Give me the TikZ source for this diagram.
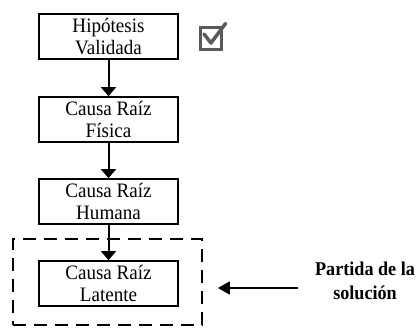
\documentclass[tikz,border=0pt]{standalone}
\usepackage{fontspec}
\setmainfont{Liberation Serif}
\newfontfamily\narrowserif{Liberation Serif}[FakeStretch=0.93]
\usepackage{tikz}
\usetikzlibrary{arrows.meta}
\tikzstyle{rootbox}=[draw, line width=1.7pt, minimum width=139pt, minimum height=45pt, inner sep=0pt, align=center, font=\narrowserif\fontsize{20.5}{22}\selectfont]
\tikzstyle{arr}=[line width=2pt, -{Triangle[length=9pt, width=15pt]}]
\tikzstyle{arrleft}=[line width=2pt, -{Triangle[length=12pt, width=13pt]}]

\begin{document}
\begin{tikzpicture}[x=1pt, y=-1pt]
        \useasboundingbox (0,0) rectangle (419,327);

        % Chain of causes
        \node[rootbox] (hyp) at (108.5,36.5) {Hipótesis\\Validada};
        \node[rootbox] (phys) at (108.5,119.5) {Causa Raíz\\Física};
        \node[rootbox] (human) at (108.5,201.5) {Causa Raíz\\Humana};
        \node[rootbox] (latent) at (108.5,283.5) {Causa Raíz\\Latente};

        \draw[arr] (hyp) -- (phys);
        \draw[arr] (phys) -- (human);
        \draw[arr] (human) -- (latent);

        % Check mark
        \node[draw, gray!70!black, line width=3pt, minimum width=21pt, minimum height=22pt, inner sep=0pt] (check) at (210.5,38) {};
        \draw[gray!70!black, line width=3.5pt, line cap=round, line join=round] (204,34) -- (211,43) -- (225.5,23.5);

        % Starting point
        \node[draw, dashed, dash pattern=on 13pt off 8pt, line width=1.8pt, minimum width=189pt, minimum height=86pt] (focus) at (107.5,282) {};
        \node[align=center, font=\narrowserif\fontsize{19.5}{24}\selectfont\bfseries] (start) at (365,281) {Partida de la\\solución};
        \draw[arrleft] ([xshift=-14pt, yshift=-7pt]start.west) -- ([xshift=15pt, yshift=-6pt]focus.east);

    \end{tikzpicture}
\end{document}
